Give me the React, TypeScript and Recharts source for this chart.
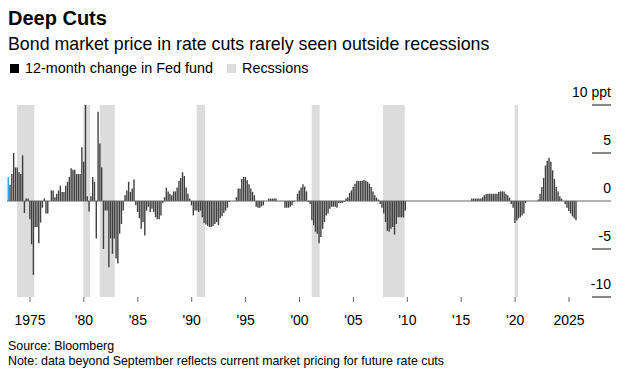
import React from "react";
import {
  ComposedChart,
  Bar,
  Cell,
  XAxis,
  YAxis,
  ReferenceArea,
  ReferenceLine,
} from "recharts";

const FONT = '"Liberation Sans", Arial, sans-serif';

// bars every two months starting Jan 1973
const startYear = 1973;
const barsPerYear = 6;

const cuts1970s = [
  2.5, 1.7, 2.8, 5.0, 3.5, 3.5,
  3.0, 2.8, 4.75, -1.25, 0.25, 0.25,
  -1.9, -4.5, -7.7, -2.7, -2.7, -4.4,
  -2.25, -0.7, 0.25, -1.3, -1.3, 0,
  1.1, 1.1, 0.4, 0.75, 1.1, 1.6,
  0.95, 0.95, 1.6, 2.0, 2.5, 3.4,
  3.25, 3.25, 2.8, 2.8, 2.8, 5.6,
];
const cuts1980s = [
  4.1, 10, 0.5, -1.1, 0.5, 2.5,
  2.0, -3.9, 9.3, 6.0, 3.5, -5.0,
  -1.0, -1.0, -6.9, -3.9, -5.5, -3.9,
  -6.0, -6.5, -3.4, -2.4, -1.0, 0.6,
  1.1, 2.0, 0.95, 1.3, 2.25, -0.45,
  -1.15, -1.8, -2.9, -2.2, -3.6, -1.0,
  -0.6, -1.15, -0.8, -1.15, -1.7, -1.9,
  -1.9, -1.5, -0.2, 0.4, 1.4, 1.0,
  0.75, 0.6, 1.0, 1.0, 1.4, 2.1,
  2.4, 3.0, 2.6, 1.4, 0.75, 0.25,
];
const cuts1990s = [
  -0.45, -1.5, -1.0, -1.0, -1.15, -1.0,
  -1.7, -2.3, -2.45, -2.6, -2.7, -2.7,
  -2.6, -2.4, -2.2, -2.5, -1.8, -1.6,
  -1.25, -1.0, -0.7, -0.1, 0, 0,
  0, 0.4, 1.3, 1.3, 2.3, 2.5,
  2.5, 2.15, 1.75, 1.3, 0.95, 0.6,
  -0.6, -0.7, -0.7, -0.55, -0.45, 0,
  0, 0.25, 0.25, 0.25, 0.25, 0.25,
  0, 0, 0, 0, -0.7, -0.7,
  -0.7, -0.6, -0.45, -0.1, 0, 0.75,
];
const cuts2000s = [
  1.1, 1.4, 1.75, 1.5, 1.0, -0.1,
  -0.3, -2.0, -2.5, -3.2, -3.4, -4.4,
  -3.75, -2.9, -2.2, -1.5, -1.3, -0.8,
  -0.6, -0.6, -0.6, -0.7, -0.2, -0.2,
  -0.2, -0.1, 0.25, 0.4, 0.85, 1.1,
  1.45, 1.8, 2.1, 2.1, 2.1, 2.1,
  2.2, 2.1, 2.0, 1.8, 1.45, 1.0,
  0.6, 0.35, 0.15, -0.3, -0.7, -1.3,
  -2.2, -3.1, -3.2, -2.9, -2.7, -3.5,
  -2.4, -1.7, -1.7, -1.7, -1.7, -1.0,
];
const cuts2010s = [
  0, 0, 0, 0, 0, 0,
  0, 0, 0, 0, 0, 0,
  0, 0, 0, 0, 0, 0,
  0, 0, 0, 0, 0, 0,
  0, 0, 0, 0, 0, 0,
  0, 0, 0, 0, 0, 0,
  0.25, 0.25, 0.25, 0.25, 0.25, 0.25,
  0.4, 0.6, 0.7, 0.75, 0.75, 0.75,
  0.75, 0.75, 0.75, 0.95, 1.0, 1.0,
  1.0, 0.75, 0.6, 0.35, -0.3, -0.7,
];
const cuts2020s = [
  -2.3, -2.0, -1.8, -1.7, -1.5, -1.3,
  -0.2, 0, 0, 0, 0, 0,
  0, 0.15, 0.75, 1.45, 2.4, 3.7,
  4.2, 4.5, 4.1, 3.2, 2.3, 1.45,
  1.0, 0.5, 0.25, 0, -0.35, -0.7,
  -1.05, -1.3, -1.6, -1.8, -2.0,
];

const fedChange = [
  ...cuts1970s,
  ...cuts1980s,
  ...cuts1990s,
  ...cuts2000s,
  ...cuts2010s,
  ...cuts2020s,
];

const recessionStarts = [1973.8, 1979.94, 1981.47, 1990.46, 2001.13, 2007.75, 2019.96];
const recessionEnds = [1975.4, 1980.57, 1982.86, 1991.23, 2001.87, 2009.76, 2020.27];

const xTicks = [1975, 1980, 1985, 1990, 1995, 2000, 2005, 2010, 2015, 2020, 2025];
const xTickLabels = ["1975", "'80", "'85", "'90", "'95", "'00", "'05", "'10", "'15", "'20", "2025"];
const yTicks = [-10, -5, 0, 5, 10];
const yTickLabels = ["-10", "-5", "0", "5", "10 ppt"];

const data = fedChange.map((change, i) => ({
  year: startYear + i / barsPerYear,
  change,
}));

const BAR = "#3f3f3f";
const HIGHLIGHT = "#23a3e3";
const SHADE = "#dcdcdc";

function YearTick(props: any) {
  const { x, y, payload } = props;
  const label = xTickLabels[xTicks.indexOf(payload.value)];
  return (
    <g>
      <line x1={x} x2={x} y1={y} y2={y + 5} stroke="#666" />
      <text x={x} y={y + 28} textAnchor="middle" fontSize={14} fontFamily={FONT} fill="#000">
        {label}
      </text>
    </g>
  );
}

function PptTick(props: any) {
  const { x, y, payload } = props;
  const label = yTickLabels[yTicks.indexOf(payload.value)];
  return (
    <g>
      {payload.value !== 0 && (
        <line x1={x - 19} x2={x} y1={y} y2={y} stroke="#111" />
      )}
      <text x={x} y={y - 8} textAnchor="end" fontSize={14} fontFamily={FONT} fill="#000">
        {label}
      </text>
    </g>
  );
}

export default function App() {
  return (
    <div
      style={{
        position: "absolute",
        left: 0,
        top: 0,
        width: 627,
        height: 374,
        background: "#fff",
        fontFamily: FONT,
        color: "#000",
        overflow: "hidden",
      }}
    >
      <ComposedChart
        width={627}
        height={374}
        data={data}
        margin={{ top: 105, right: 15, bottom: 0, left: 7 }}
        style={{ position: "absolute", left: 0, top: 0 }}
      >
        {recessionStarts.map((s, i) => (
          <ReferenceArea
            key={s}
            x1={s}
            x2={recessionEnds[i]}
            y1={-10}
            y2={10}
            fill={SHADE}
            fillOpacity={1}
            stroke="none"
          />
        ))}
        <XAxis
          dataKey="year"
          type="number"
          domain={[1972.866, 2028.896]}
          allowDataOverflow
          ticks={xTicks}
          interval={0}
          height={77}
          axisLine={false}
          tickLine={false}
          tickSize={0}
          tickMargin={0}
          tick={(p: any) => <YearTick {...p} />}
        />
        <YAxis
          orientation="right"
          domain={[-10, 10]}
          ticks={yTicks}
          interval={0}
          width={1}
          axisLine={false}
          tickLine={false}
          tickSize={0}
          tickMargin={0}
          tick={(p: any) => <PptTick {...p} />}
        />
        <ReferenceLine y={0} stroke="#666" strokeWidth={1} />
        <Bar dataKey="change" barSize={1.4} isAnimationActive={false}>
          {data.map((d, i) => (
            <Cell key={d.year} fill={i === 0 ? HIGHLIGHT : BAR} />
          ))}
        </Bar>
      </ComposedChart>

      <div style={{ position: "absolute", left: 8, top: 8, fontSize: 20, lineHeight: "20px", fontWeight: 700 }}>
        Deep Cuts
      </div>
      <div style={{ position: "absolute", left: 8, top: 35, fontSize: 17.8, lineHeight: "18px" }}>
        Bond market price in rate cuts rarely seen outside recessions
      </div>
      <div style={{ position: "absolute", left: 10, top: 61, fontSize: 14.4, lineHeight: "15px", display: "flex", alignItems: "center" }}>
        <span style={{ width: 9, height: 9, background: "#000", display: "inline-block", marginRight: 6 }} />
        <span>12-month change in Fed fund</span>
        <span style={{ width: 9, height: 9, background: SHADE, display: "inline-block", marginLeft: 14, marginRight: 6 }} />
        <span>Recssions</span>
      </div>
      <div style={{ position: "absolute", left: 8, top: 339, fontSize: 12.4, lineHeight: "14px" }}>
        Source: Bloomberg
      </div>
      <div style={{ position: "absolute", left: 8, top: 354, fontSize: 12.4, lineHeight: "14px" }}>
        Note: data beyond September reflects current market pricing for future rate cuts
      </div>
    </div>
  );
}
